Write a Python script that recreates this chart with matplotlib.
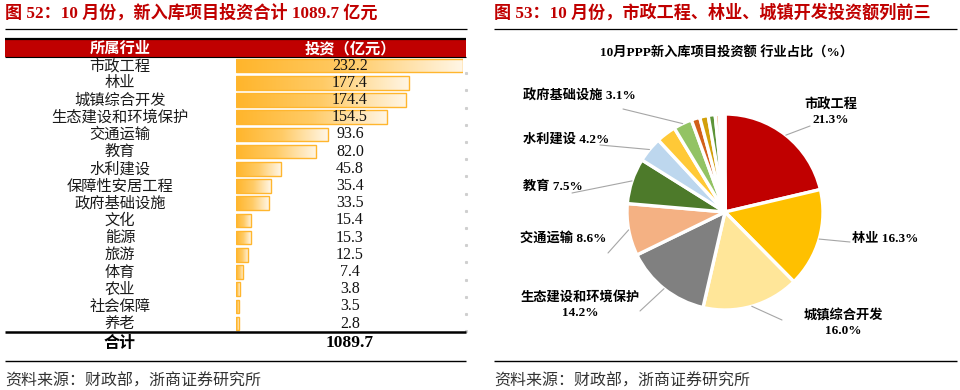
import numpy as np
import matplotlib
matplotlib.use("Agg")
import matplotlib.pyplot as plt
from matplotlib.lines import Line2D
from matplotlib.patches import Rectangle, ConnectionPatch
from matplotlib.colors import LinearSegmentedColormap

# ---------------- data ----------------
categories = ["市政工程", "林业", "城镇综合开发", "生态建设和环境保护", "交通运输", "教育",
              "水利建设", "保障性安居工程", "政府基础设施", "文化", "能源", "旅游",
              "体育", "农业", "社会保障", "养老"]
values = [232.2, 177.4, 174.4, 154.5, 93.6, 82.0, 45.8, 35.4, 33.5, 15.4, 15.3, 12.5,
          7.4, 3.8, 3.5, 2.8]
total_value = 1089.7

left_title = "图 52：10 月份，新入库项目投资合计 1089.7 亿元"
right_title = "图 53：10 月份，市政工程、林业、城镇开发投资额列前三"
header_left = "所属行业"
header_right = "投资（亿元）"
total_label = "合计"
pie_title = "10月PPP新入库项目投资额 行业占比（%）"
source_text = "资料来源：财政部，浙商证券研究所"

pie_colors = ["#C00000", "#FFC000", "#FFE699", "#808080", "#F4B183", "#4D7A2A",
              "#BDD7EE", "#FFC937", "#93C364", "#D2601A", "#D2A00A", "#5E9438",
              "#F4B183", "#FBE5D6", "#DEEBF7", "#E2F0D9"]

# ---------------- style / layout ----------------
W, H = 960, 390
fig = plt.figure(figsize=(W / 100, H / 100), dpi=100)
fig.patch.set_facecolor("white")

CJK = "Noto Sans CJK SC"
MIX = ["Liberation Serif", CJK]


def fx(x):
    return x / W


def fy(y):
    return 1 - y / H


def hline(x0, x1, y, lw, color="black"):
    fig.add_artist(Line2D([fx(x0), fx(x1)], [fy(y), fy(y)], transform=fig.transFigure,
                          color=color, lw=lw, solid_capstyle="butt"))


RED = "#C00000"
# titles
fig.text(fx(5), fy(13), left_title, family=MIX, weight="bold", size=12.3, color=RED,
         va="center", ha="left")
fig.text(fx(494), fy(13), right_title, family=MIX, weight="bold", size=12.3, color=RED,
         va="center", ha="left")
hline(5, 467, 29, 0.9)
hline(494, 957, 28.5, 0.9)

# ---------------- table (left) ----------------
n = len(categories)
row_top = 57.0
row_h = 17.2
# header band
fig.add_artist(Rectangle((fx(5), fy(56.5)), fx(466) - fx(5), fy(39.5) - fy(56.5),
                         transform=fig.transFigure, facecolor=RED, edgecolor="none"))
hline(5, 466, 39.3, 1.6)
hline(5, 466, 56.8, 0.8)
fig.text(fx(120), fy(48), header_left, family=CJK, weight="bold", size=11,
         color="white", ha="center", va="center")
fig.text(fx(350), fy(48), header_right, family=CJK, weight="bold", size=11,
         color="white", ha="center", va="center")

for i, (c, v) in enumerate(zip(categories, values)):
    yc = row_top + row_h * (i + 0.5)
    fig.text(fx(120), fy(yc), c, family=CJK, size=11, color="#1a1a1a",
             ha="center", va="center")
    fig.text(fx(350), fy(yc), f"{v:.1f}", family="Liberation Serif", size=11.5,
             color="#111111", ha="center", va="center")
    # faint dotted right border
    fig.add_artist(Line2D([fx(466)], [fy(row_top + row_h * (i + 1) - 1)],
                          transform=fig.transFigure, marker="s", markersize=1.2,
                          color="#cfcfcf", lw=0))

bottom_rows = row_top + row_h * n
hline(5, 466, 331.5, 1.8)
fig.text(fx(120), fy(343), total_label, family=CJK, weight="bold", size=11.5,
         color="black", ha="center", va="center")
fig.text(fx(350), fy(343), f"{total_value:.1f}", family="Liberation Serif",
         weight="bold", size=12.5, color="black", ha="center", va="center")
hline(5, 466, 360.5, 1.0)

# bars
bar_left, bar_right = 236, 463
axb = fig.add_axes([fx(bar_left), fy(bottom_rows), fx(bar_right) - fx(bar_left),
                    fy(row_top) - fy(bottom_rows)])
axb.set_xlim(0, max(values))
axb.set_ylim(n - 0.5, -0.5)
axb.axis("off")
grad_cmap = LinearSegmentedColormap.from_list("g", ["#FFB52B", "#FFCB66", "#FFF6E6"])
grad = np.linspace(0, 1, 256).reshape(1, -1)
bars = axb.barh(np.arange(n), values, height=0.8, facecolor="none",
                edgecolor="#FFB62E", linewidth=1.0, zorder=3)
for b in bars:
    x0, y0 = b.get_x(), b.get_y()
    w, h = b.get_width(), b.get_height()
    im = axb.imshow(grad, cmap=grad_cmap, aspect="auto", extent=(x0, x0 + w, y0 + h, y0),
                    zorder=2, interpolation="bilinear")
    im.set_clip_path(b)
axb.set_xlim(0, max(values))
axb.set_ylim(n - 0.5, -0.5)

# ---------------- pie (right) ----------------
fig.text(fx(727), fy(53), pie_title, family=MIX, weight="bold", size=9.5,
         color="black", ha="center", va="center")
cx, cy, R = 725, 212, 98
lim = 1.15
axp = fig.add_axes([fx(cx - R * lim), fy(cy + R * lim), 2 * R * lim / W, 2 * R * lim / H])
wedges, _ = axp.pie(values, colors=pie_colors, startangle=90, counterclock=False,
                    radius=1.0, wedgeprops=dict(edgecolor="white", linewidth=2.4))
axp.set_xlim(-lim, lim)
axp.set_ylim(-lim, lim)
axp.set_aspect("equal")
axp.axis("off")

# label settings: index -> (separator, text x, text y, ha, line end x, line end y)
label_layout = {
    0: ("\n", 831, 112, "center", 810, 126),
    1: (" ", 852, 239, "left", 850, 242),
    2: ("\n", 843, 323, "center", 782, 320),
    3: ("\n", 580, 305, "center", 640, 311),
    4: (" ", 606, 238, "right", 608, 253),
    5: (" ", 583, 187, "right", 572, 193),
    6: (" ", 609, 139, "right", 600, 145),
    8: (" ", 636, 96, "right", 623, 109),
}
for idx, (sep, tx, ty, ha, lx, ly) in label_layout.items():
    w = wedges[idx]
    ang = np.deg2rad((w.theta1 + w.theta2) / 2)
    px, py = np.cos(ang), np.sin(ang)
    pct = values[idx] / total_value * 100
    fig.text(fx(tx), fy(ty), f"{categories[idx]}{sep}{pct:.1f}%", family=MIX,
             weight="bold", size=9.5, color="black", ha=ha, va="center",
             multialignment="center", linespacing=1.3)
    con = ConnectionPatch(xyA=(px, py), coordsA=axp.transData,
                          xyB=(fx(lx), fy(ly)), coordsB=fig.transFigure,
                          color="#a6a6a6", lw=0.8)
    fig.add_artist(con)

hline(494, 957, 360.5, 1.0)

# sources
fig.text(fx(5), fy(381), source_text, family=CJK, size=11.5, color="#333333",
         ha="left", va="center")
fig.text(fx(494), fy(381), source_text, family=CJK, size=11.5, color="#333333",
         ha="left", va="center")

fig.savefig("out.png", dpi=100, facecolor="white")
